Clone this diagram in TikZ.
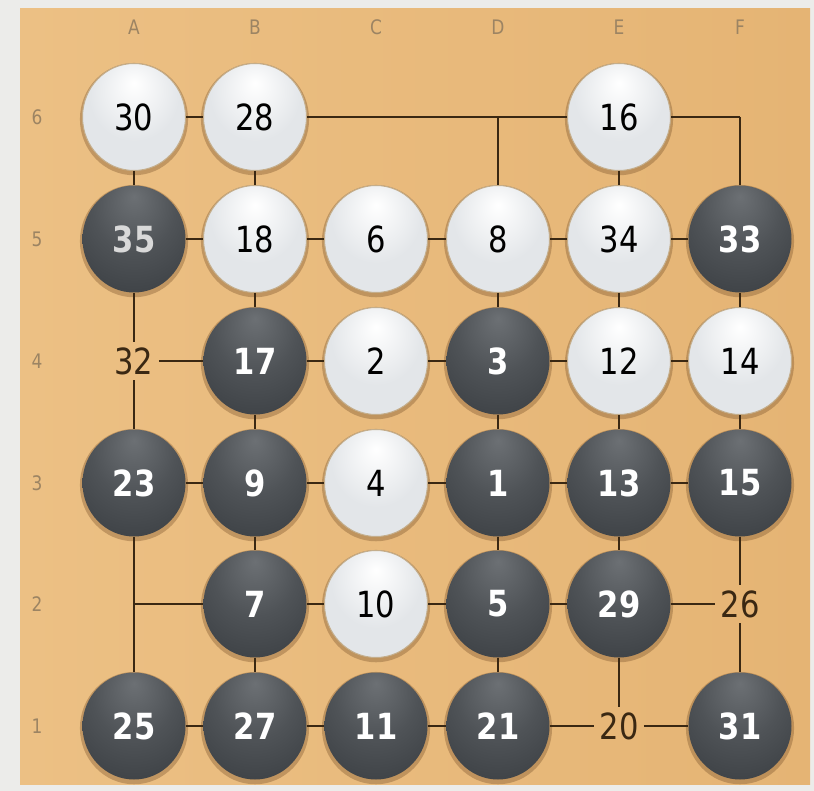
\documentclass[tikz,border=0pt]{standalone}
\usepackage{fontspec}
\setmainfont{DejaVu Sans}[FakeStretch=0.85]
\usetikzlibrary{shapes.geometric,shadows}
\definecolor{marble}{HTML}{ECECEA}
\definecolor{woodl}{HTML}{ECC084}
\definecolor{woodr}{HTML}{E5B474}
\definecolor{ink}{HTML}{3A2813}
\definecolor{stonedk}{HTML}{3F4347}
\definecolor{stonemid}{HTML}{4F5357}
\definecolor{stonehi}{HTML}{6C7074}
\definecolor{stonewt}{HTML}{E3E6E9}
\definecolor{stoneedge}{HTML}{C4AE8C}
\definecolor{coordc}{HTML}{9C8463}
\pgfdeclareradialshading{blackstone}{\pgfpoint{0bp}{20bp}}{color(0bp)=(stonehi); color(20bp)=(stonemid); color(36bp)=(stonedk); color(50bp)=(stonedk); color(70bp)=(stonedk!85!black)}
\pgfdeclareradialshading{whitestone}{\pgfpoint{0bp}{16bp}}{color(0bp)=(white); color(22bp)=(stonewt); color(50bp)=(stonewt); color(66bp)=(stonewt!92!black)}

\begin{document}
\begin{tikzpicture}[x=0.5pt,y=-0.5pt,every node/.style={font=\fontsize{18}{18}\selectfont},
  stone/.style={ellipse,minimum width=51.5pt,minimum height=53.5pt,inner sep=0pt,drop shadow={shadow scale=1.05,shadow xshift=0pt,shadow yshift=-1pt,opacity=.35,fill=brown!60!black}},
  bs/.style={stone,shading=blackstone,text=white,font=\fontsize{18}{18}\selectfont\bfseries},
  ws/.style={stone,shading=whitestone,draw=stoneedge,line width=.5pt,text=black},
  mv/.style={text=ink,inner sep=2.5pt},
  rimline/.style={draw=ink,line width=1.15pt},
  gridline/.style={draw=ink,line width=.65pt},
  lbl/.style={text=coordc,font=\fontsize{10}{10}\selectfont}]
\useasboundingbox[fill=marble] (0,0) rectangle (814,791);
\shade[left color=woodl,right color=woodr] (20,9) rectangle (810,784);
% coordinates round the board
\node[lbl] (la) at (134,27) {A};\node[lbl] (lb) at (255,27) {B};\node[lbl] (lc) at (376,27) {C};
\node[lbl] (ld) at (498,27) {D};\node[lbl] (le) at (619,27) {E};\node[lbl] (lf) at (740,27) {F};
\node[lbl] (r6) at (37,117) {6};\node[lbl] (r5) at (37,239) {5};\node[lbl] (r4) at (37,361) {4};
\node[lbl] (r3) at (37,483) {3};\node[lbl] (r2) at (37,604) {2};\node[lbl] (r1) at (37,726) {1};
% row 6
\node[ws] (a6) at (134,117) {30};\node[ws] (b6) at (255,117) {28};\coordinate (c6) at (376,117);
\coordinate (d6) at (498,117);\node[ws] (e6) at (619,117) {16};\coordinate (f6) at (740,117);
% row 5
\node[bs,text=white!70!gray] (a5) at (134,239) {35};\node[ws] (b5) at (255,239) {18};\node[ws] (c5) at (376,239) {6};
\node[ws] (d5) at (498,239) {8};\node[ws] (e5) at (619,239) {34};\node[bs] (f5) at (740,239) {33};
% row 4
\node[mv] (a4) at (134,361) {32};\node[bs] (b4) at (255,361) {17};\node[ws] (c4) at (376,361) {2};
\node[bs] (d4) at (498,361) {3};\node[ws] (e4) at (619,361) {12};\node[ws] (f4) at (740,361) {14};
% row 3
\node[bs] (a3) at (134,483) {23};\node[bs] (b3) at (255,483) {9};\node[ws] (c3) at (376,483) {4};
\node[bs] (d3) at (498,483) {1};\node[bs] (e3) at (619,483) {13};\node[bs] (f3) at (740,483) {15};
% row 2
\coordinate (a2) at (134,604);\node[bs] (b2) at (255,604) {7};\node[ws] (c2) at (376,604) {10};
\node[bs] (d2) at (498,604) {5};\node[bs] (e2) at (619,604) {29};\node[mv] (f2) at (740,604) {26};
% row 1
\node[bs] (a1) at (134,726) {25};\node[bs] (b1) at (255,726) {27};\node[bs] (c1) at (376,726) {11};
\node[bs] (d1) at (498,726) {21};\node[mv] (e1) at (619,726) {20};\node[bs] (f1) at (740,726) {31};
% lines between the points
\draw[rimline] (a6)--(b6)--(c6)--(d6)--(e6)--(f6);
\draw[gridline] (a5)--(b5)--(c5)--(d5)--(e5)--(f5);
\draw[gridline] (a4)--(b4)--(c4)--(d4)--(e4)--(f4);
\draw[gridline] (a3)--(b3)--(c3)--(d3)--(e3)--(f3);
\draw[gridline] (a2)--(b2)--(c2)--(d2)--(e2)--(f2);
\draw[rimline] (a1)--(b1)--(c1)--(d1)--(e1)--(f1);
\draw[rimline] (a6)--(a5)--(a4)--(a3)--(a2)--(a1);
\draw[gridline] (b6)--(b5)--(b4)--(b3)--(b2)--(b1);
\draw[gridline] (d6)--(d5)--(d4)--(d3)--(d2)--(d1);
\draw[gridline] (e6)--(e5)--(e4)--(e3)--(e2)--(e1);
\draw[gridline] (f6)--(f5)--(f4)--(f3)--(f2)--(f1);
\end{tikzpicture}
\end{document}
